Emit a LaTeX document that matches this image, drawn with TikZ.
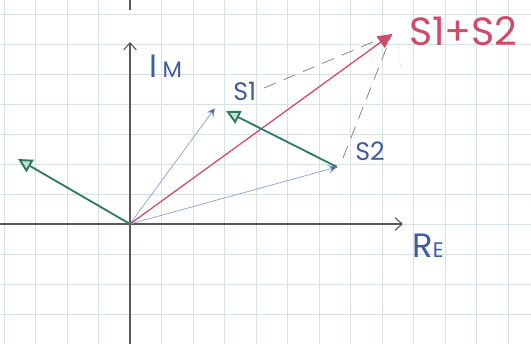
\documentclass[tikz,border=0pt]{standalone}
\usepackage{fontspec}
\setmainfont{Poppins}
\usetikzlibrary{arrows.meta}
\definecolor{penBlue}{HTML}{3F5C9E}
\definecolor{penRed}{HTML}{D24A68}
\definecolor{penGreen}{HTML}{2F7A62}
\definecolor{gridCol}{HTML}{D3E3E7}
\definecolor{lineBlue}{HTML}{8AA2CF}
\begin{document}
\begin{tikzpicture}[x=0.25mm, y=-0.25mm,
  axis/.style={line width=0.8pt, draw=black!65},
  phasor/.style={line width=0.5pt, draw=lineBlue, -{Stealth[length=6pt,width=6pt,fill=penBlue]}},
  diff/.style={line width=1.3pt, draw=penGreen, -{Triangle[open,length=10pt,width=10pt,line width=1.4pt,fill=penGreen!25]}},
  helper/.style={line width=0.6pt, draw=black!45, dash pattern=on 9pt off 6pt},
  lbl/.style={text=penBlue, inner sep=0pt}]
\useasboundingbox (0,0) rectangle (531,344);
% graph paper
\foreach \gx in {4,35.5,67,98.5,161.5,193,224.5,256,287.5,319,350.5,382,413.5,445,476.5,508}
  \draw[gridCol, line width=0.5pt] (\gx,0) -- (\gx,344);
\foreach \gy in {14,44,74,104,134,164,194,254,284,314}
  \draw[gridCol, line width=0.5pt] (0,\gy) -- (531,\gy);
\draw[gridCol, line width=0.5pt] (403,224) -- (531,224);
% points
\coordinate (O) at (130,224);
\coordinate (S1) at (215,108);
\coordinate (S2) at (337,167);
\coordinate (S12) at (392,34);
\coordinate (G1) at (226,111);
\coordinate (G2) at (18,159);
\coordinate (D1) at (264,88);
\coordinate (D2) at (343,158);
% axes
\draw[axis, -{Straight Barb[length=5pt,width=9pt]}] (0,224) -- (403,224);
\draw[axis, -{Straight Barb[length=5pt,width=9pt]}] (130,344) -- (130,42);
\draw[axis] (130,0) -- (130,10);
\node[lbl, anchor=west] (im) at (149,66) {\fontsize{23}{23}\selectfont I\,\fontsize{16}{16}\selectfont M};
\node[lbl, anchor=west] (re) at (412,246) {\fontsize{24}{24}\selectfont R\fontsize{15}{15}\selectfont E};
% sum construction
\draw[helper] (D1) -- (S12);
\draw[helper] (D2) -- (S12);
\draw[black!30, line width=0.4pt, dotted] (373,46) -- (368,78);
\draw[black!30, line width=0.4pt, dotted] (398,44) -- (401,68);
% phasors
\draw[phasor] (O) -- (S1);
\draw[phasor] (O) -- (S2);
\draw[line width=0.9pt, draw=penRed, -{Triangle[length=10pt,width=10pt,fill=penRed]}] (O) -- (S12);
\draw[diff] (S2) -- (G1);
\draw[diff] (O) -- (G2);
\node[lbl, anchor=west] (s1) at (233,91) {\fontsize{18}{18}\selectfont S1};
\node[lbl, anchor=west] (s2) at (355,151) {\fontsize{18}{18}\selectfont S2};
\node[lbl, anchor=west, text=penRed] (s12) at (409,31) {\fontsize{28}{28}\selectfont S1+S2};
\end{tikzpicture}
\end{document}
